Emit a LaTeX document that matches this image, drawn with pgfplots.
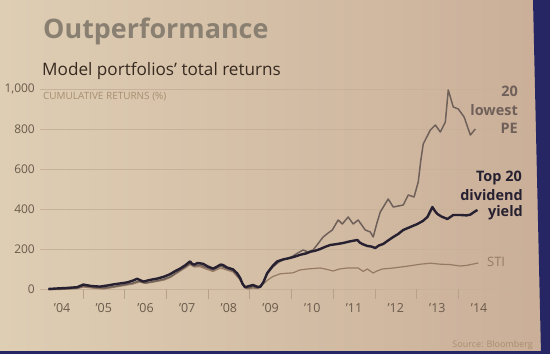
\documentclass[border=0pt]{standalone}
\usepackage{pgfplots}
\pgfplotsset{compat=1.18}
\usepackage{pgfplotstable}
\usepackage{fontspec}
\setmainfont{Open Sans}
\definecolor{bgL}{RGB}{222,206,180}
\definecolor{bgR}{RGB}{202,174,152}
\definecolor{gridc}{RGB}{200,177,153}
\definecolor{tickmc}{RGB}{185,160,138}
\definecolor{titlec}{RGB}{138,128,114}
\definecolor{subc}{RGB}{55,42,32}
\definecolor{tickc}{RGB}{105,90,75}
\definecolor{divc}{RGB}{38,32,48}
\definecolor{pec}{RGB}{112,96,90}
\definecolor{stic}{RGB}{150,122,100}
\definecolor{lightc}{RGB}{168,142,112}
\definecolor{border}{RGB}{38,38,100}

\pgfplotstableread{
yr val
2004.17 0
2004.40 3
2004.60 5
2004.86 9
2005.01 22
2005.20 15
2005.41 12
2005.60 18
2005.73 23
2005.90 28
2006.06 33
2006.20 42
2006.30 51
2006.45 37
2006.60 45
2006.78 52
2006.95 62
2007.09 74
2007.20 88
2007.33 102
2007.45 118
2007.57 138
2007.62 125
2007.67 122
2007.75 130
2007.88 126
2008.00 112
2008.12 102
2008.20 110
2008.30 122
2008.36 120
2008.45 108
2008.60 98
2008.70 78
2008.77 55
2008.83 25
2008.89 8
2008.97 14
2009.08 20
2009.17 12
2009.25 10
2009.33 35
2009.42 80
2009.55 115
2009.66 138
2009.80 148
2009.90 152
2010.05 160
2010.21 171
2010.35 178
2010.45 186
2010.58 192
2010.69 200
2010.80 210
2010.93 220
2011.10 225
2011.24 230
2011.40 238
2011.58 245
2011.64 232
2011.70 225
2011.82 215
2011.92 212
2012.01 205
2012.10 218
2012.20 225
2012.30 240
2012.44 260
2012.56 275
2012.68 295
2012.85 310
2013.02 325
2013.15 340
2013.26 360
2013.38 410
2013.44 390
2013.50 375
2013.60 362
2013.74 350
2013.88 370
2014.05 370
2014.20 368
2014.29 372
2014.38 385
2014.46 395
}\divtab

\pgfplotstableread{
yr val
2004.17 -2
2004.50 0
2004.86 5
2005.01 15
2005.30 8
2005.50 5
2005.73 12
2006.00 22
2006.20 30
2006.35 40
2006.50 30
2006.70 38
2006.95 50
2007.10 62
2007.30 90
2007.45 110
2007.57 128
2007.67 115
2007.80 120
2007.95 108
2008.12 95
2008.30 115
2008.45 102
2008.60 92
2008.75 55
2008.85 20
2008.95 5
2009.08 12
2009.20 5
2009.30 25
2009.42 75
2009.55 110
2009.70 135
2009.85 150
2010.00 160
2010.15 180
2010.28 195
2010.40 185
2010.52 195
2010.65 230
2010.76 260
2010.88 280
2010.98 295
2011.12 345
2011.22 325
2011.36 360
2011.48 325
2011.60 345
2011.77 295
2011.89 285
2011.96 260
2012.05 330
2012.13 385
2012.32 450
2012.44 410
2012.56 415
2012.68 420
2012.80 470
2012.94 460
2013.04 535
2013.10 640
2013.16 725
2013.33 795
2013.45 820
2013.57 785
2013.69 835
2013.76 995
2013.88 910
2014.00 900
2014.14 860
2014.29 770
2014.41 800
}\petab

\pgfplotstableread{
yr val
2004.17 -3
2004.50 -2
2004.86 2
2005.01 10
2005.30 3
2005.50 0
2005.73 8
2006.00 18
2006.20 25
2006.35 35
2006.50 28
2006.70 35
2006.95 45
2007.10 58
2007.30 85
2007.45 105
2007.57 122
2007.67 110
2007.80 112
2007.95 100
2008.12 88
2008.30 105
2008.45 95
2008.60 85
2008.75 50
2008.85 15
2008.95 0
2009.08 5
2009.20 2
2009.30 20
2009.42 43
2009.55 62
2009.73 76
2010.04 81
2010.20 95
2010.38 100
2010.69 105
2010.85 98
2011.00 90
2011.15 100
2011.34 105
2011.60 105
2011.72 88
2011.82 100
2011.96 80
2012.05 90
2012.18 100
2012.44 105
2012.78 114
2013.09 124
2013.33 129
2013.57 124
2013.80 122
2014.05 115
2014.20 118
2014.29 122
2014.48 130
}\stitab

\begin{document}
\begin{tikzpicture}
\shade[left color=bgL, right color=bgR] (0bp,0bp) rectangle (550bp,354bp);
\fill[border] (533bp,354bp) -- (550bp,354bp) -- (550bp,0bp) -- (541bp,0bp) -- cycle;
\fill[border] (0bp,0bp) rectangle (550bp,3bp);

\node[anchor=base west, inner sep=0, text=titlec, font=\fontsize{27}{27}\selectfont\bfseries] at (43bp,315bp) {Outperformance};
\node[anchor=base west, inner sep=0, text=subc, font=\fontsize{17.2}{17.2}\selectfont] at (42bp,278bp) {Model portfolios’ total returns};
\node[anchor=base west, inner sep=0, text=lightc, font=\fontsize{10}{10}\selectfont] at (43bp,254bp) {CUMULATIVE RETURNS (\%)};

\begin{axis}[
  at={(40bp,65bp)}, anchor=south west,
  scale only axis, width=485bp, height=200bp,
  xmin=2003.971, xmax=2015.60, ymin=0, ymax=1000,
  clip=false,
  axis line style={draw=none},
  ytick={0,200,400,600,800,1000},
  ymajorgrids, grid style={draw=gridc, line width=0.7bp},
  major y tick style={draw=none},
  ytick pos=left, xtick pos=lower,
  xtick={2004.5,2005.5,2006.5,2007.5,2008.5,2009.5,2010.5,2011.5,2012.5,2013.5,2014.5},
  xticklabels={’04,’05,’06,’07,’08,’09,’10,’11,’12,’13,’14},
  major x tick style={draw=none},
  minor xtick={2005,2006,2007,2008,2009,2010,2011,2012,2013,2014},
  minor x tick style={draw=tickmc, line width=0.6bp},
  minor tick length=-10bp,
  extra description/.code={},
  scaled ticks=false,
  /pgf/number format/assume math mode=true,
  /pgf/number format/1000 sep={,},
  yticklabel style={anchor=east, inner sep=0pt, xshift=-5bp, text=tickc, font=\fontsize{12}{12}\selectfont},
  xticklabel style={anchor=north, inner sep=0pt, yshift=-14bp, text=tickc, font=\fontsize{12.5}{12.5}\selectfont},
]
\addplot[stic, line width=1.2bp, line join=round] table[x=yr,y=val] {\stitab};
\addplot[pec, line width=1.5bp, line join=round] table[x=yr,y=val] {\petab};
\addplot[divc, line width=2.4bp, line join=round] table[x=yr,y=val] {\divtab};
\end{axis}

\node[anchor=base east, inner sep=0, text=pec, font=\fontsize{14.5}{14.5}\selectfont\bfseries] at (518bp,257bp) {20};
\node[anchor=base east, inner sep=0, text=pec, font=\fontsize{14.5}{14.5}\selectfont\bfseries] at (518bp,238bp) {lowest};
\node[anchor=base east, inner sep=0, text=pec, font=\fontsize{14.5}{14.5}\selectfont\bfseries] at (518bp,220bp) {PE};
\node[anchor=base east, inner sep=0, text=divc, font=\fontsize{14.5}{14.5}\selectfont\bfseries] at (522bp,172bp) {Top 20};
\node[anchor=base east, inner sep=0, text=divc, font=\fontsize{14.5}{14.5}\selectfont\bfseries] at (523bp,153.5bp) {dividend};
\node[anchor=base east, inner sep=0, text=divc, font=\fontsize{14.5}{14.5}\selectfont\bfseries] at (523bp,137bp) {yield};
\node[anchor=base west, inner sep=0, text=stic, font=\fontsize{13}{13}\selectfont] at (487bp,87bp) {STI};
\node[anchor=base east, inner sep=0, text=lightc, font=\fontsize{9}{9}\selectfont] at (533bp,7bp) {Source: Bloomberg};
\end{tikzpicture}
\end{document}
